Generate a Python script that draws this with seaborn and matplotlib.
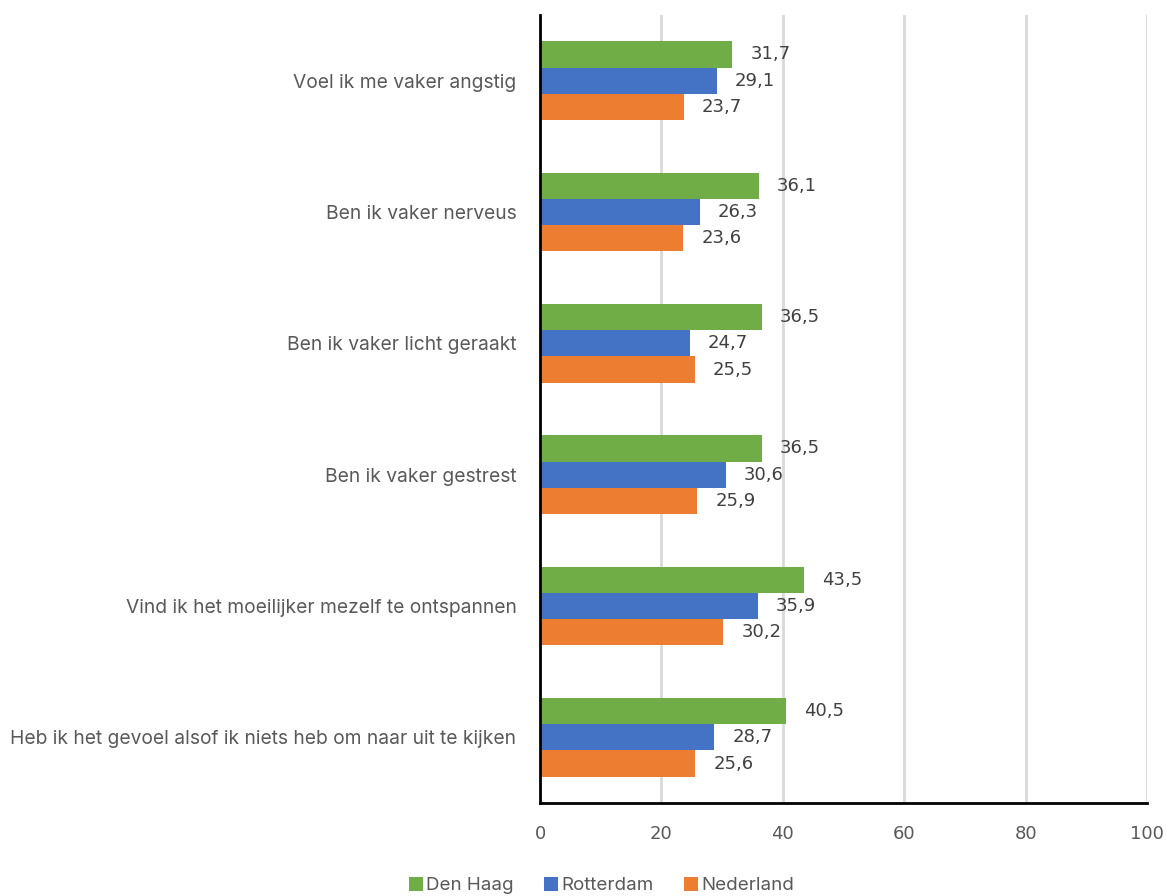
import matplotlib
matplotlib.use("Agg")
import matplotlib.pyplot as plt
import seaborn as sns
import pandas as pd

categories = [
    "Voel ik me vaker angstig",
    "Ben ik vaker nerveus",
    "Ben ik vaker licht geraakt",
    "Ben ik vaker gestrest",
    "Vind ik het moeilijker mezelf te ontspannen",
    "Heb ik het gevoel alsof ik niets heb om naar uit te kijken",
]
series = ["Den Haag", "Rotterdam", "Nederland"]
den_haag = [31.7, 36.1, 36.5, 36.5, 43.5, 40.5]
rotterdam = [29.1, 26.3, 24.7, 30.6, 35.9, 28.7]
nederland = [23.7, 23.6, 25.5, 25.9, 30.2, 25.6]
colors = ["#70AD47", "#4472C4", "#ED7D31"]
xticks = [0, 20, 40, 60, 80, 100]

rows = []
for name, vals in zip(series, [den_haag, rotterdam, nederland]):
    for c, v in zip(categories, vals):
        rows.append({"cat": c, "serie": name, "val": v})
df = pd.DataFrame(rows)

sns.set_theme(style="white")
plt.rcParams["font.family"] = ["Inter", "DejaVu Sans"]
text_color = "#595959"
fs = 13.85
num_font = ["DejaVu Sans"]

fig = plt.figure(figsize=(11.66, 8.96), dpi=100)
ax = fig.add_axes([540 / 1166, 1 - 803 / 896, (1147 - 540) / 1166, (803 - 15) / 896])

sns.barplot(data=df, y="cat", x="val", hue="serie", hue_order=series,
            order=categories, palette=colors, orient="h", width=0.6,
            saturation=1, linewidth=0, ax=ax, legend=True)

for cont in ax.containers:
    ax.bar_label(cont, labels=[f"{v:.1f}".replace(".", ",") for v in cont.datavalues],
                 padding=13, fontsize=13, color="#404040", family=num_font)

ax.set_xlim(0, 100)
ax.set_xticks(xticks)
ax.set_xticklabels([str(t) for t in xticks], family=num_font)
ax.set_ylim(5.5, -0.5)
ax.set_xlabel("")
ax.set_ylabel("")
ax.xaxis.grid(True, color="#D9D9D9", linewidth=2)
ax.set_axisbelow(True)
for s in ["top", "right"]:
    ax.spines[s].set_visible(False)
for s in ["left", "bottom"]:
    ax.spines[s].set_color("black")
    ax.spines[s].set_linewidth(2)
ax.tick_params(axis="x", length=0, pad=16, labelsize=13, labelcolor=text_color)
ax.tick_params(axis="y", length=0, pad=17, labelsize=fs, labelcolor=text_color)

handles, labels = ax.get_legend_handles_labels()
ax.legend_.remove()
fig.legend(handles, labels, loc="lower center", bbox_to_anchor=(0.516, -0.017),
           ncol=3, frameon=False, fontsize=13.5, labelcolor=text_color,
           handlelength=0.75, handleheight=0.75, handletextpad=0.2, columnspacing=1.6)

fig.savefig("out.png", dpi=100)
